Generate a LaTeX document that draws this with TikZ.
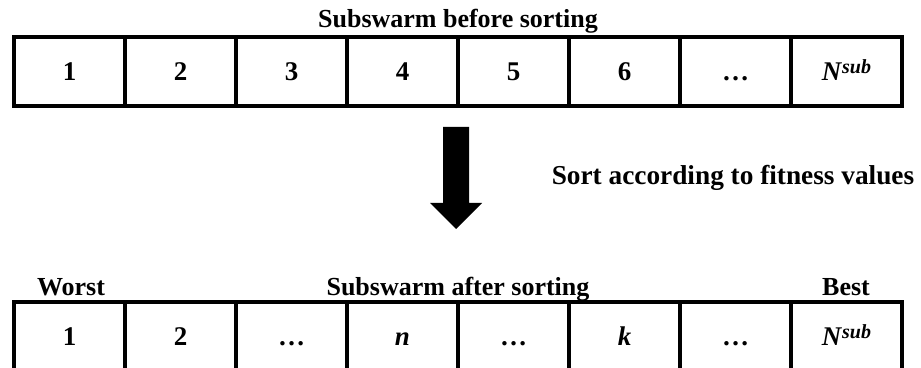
\documentclass[tikz,border=0pt]{standalone}
\usepackage{fontspec}
\setmainfont{Liberation Serif}
\usetikzlibrary{positioning}

\begin{document}
\begin{tikzpicture}[
    x=1pt, y=1pt,
    cell/.style={rectangle, draw, line width=4pt, minimum width=111pt, minimum height=69pt, inner sep=0pt, text height=18pt, text depth=0pt, font=\fontsize{27}{31}\selectfont\bfseries},
    title/.style={anchor=base, font=\fontsize{26}{30}\selectfont\bfseries},
]
\useasboundingbox (0,0) rectangle (921,367);

% Before sorting
\node[title] (toptitle) at (458,339) {Subswarm before sorting};
\foreach \lab [count=\i from 0] in {1,2,3,4,5,6,\dots,\textit{N}{\fontsize{20}{24}\selectfont\raisebox{7pt}{\textit{sub}}}}
    \node[cell] (a\i) at (69.5+111*\i,295.5) {\lab};

% Sorting step
\fill (443,240) -- (469,240) -- (469,164) -- (482,164) -- (456,138) -- (430,164) -- (443,164) -- cycle;
\node[title, font=\fontsize{27.3}{31}\selectfont\bfseries] (sortlab) at (733,182) {Sort according to fitness values};

% After sorting
\node[title] (bottitle) at (458,71) {Subswarm after sorting};
\node[title] (worst) at (71,71) {Worst};
\node[title] (best) at (846,71) {Best};
\foreach \lab [count=\i from 0] in {1,2,\dots,\textit{n},\dots,\textit{k},\dots,\textit{N}{\fontsize{20}{24}\selectfont\raisebox{7pt}{\textit{sub}}}}
    \node[cell] (b\i) at (69.5+111*\i,30.5) {\lab};
\end{tikzpicture}
\end{document}
